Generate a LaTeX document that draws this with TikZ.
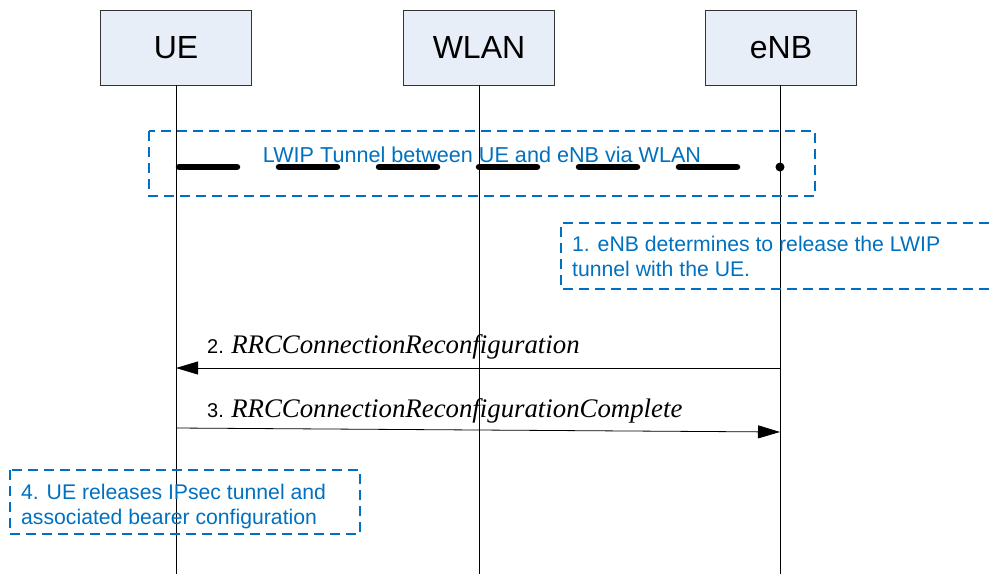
\documentclass[tikz,border=0pt]{standalone}
\usepackage{fontspec}
\setmainfont{Liberation Sans}
\newfontfamily\timesf{Liberation Serif}
\usetikzlibrary{arrows.meta}
\definecolor{hdrfill}{HTML}{E8EEF7}
\definecolor{noteblue}{HTML}{0070C0}
\begin{document}
\begin{tikzpicture}[x=1pt,y=-1pt,
  hdr/.style={draw=black!80,fill=hdrfill,line width=0.8pt,minimum width=151pt,minimum height=75pt,inner sep=0pt,font=\fontsize{32}{36}\selectfont},
  life/.style={draw=black,line width=0.8pt},
  notebox/.style={draw=noteblue,line width=1.6pt,dash pattern=on 10pt off 6pt},
  notetext/.style={text=noteblue,font=\fontsize{21.2}{25}\selectfont,align=left,inner sep=0pt},
  msg/.style={draw=black,line width=0.8pt,-{Triangle[length=22pt,width=13pt]}},
  msglabel/.style={inner sep=0pt,anchor=base west,font=\fontsize{20}{24}\selectfont},
  tunnel/.style={draw=black,line width=6.5pt,line cap=round,dash pattern=on 58pt off 42pt}]
\useasboundingbox (0,0) rectangle (989,574);
% headers
\node[hdr] (ue) at (176,47.5) {UE};
\node[hdr] (wlan) at (479,47.5) {WLAN};
\node[hdr] (enb) at (781,47.5) {eNB};
% lifeline ends
\coordinate (ueb) at (176,574);
\coordinate (wlanb) at (479,574);
\coordinate (enbb) at (780,574);
\draw[life] (176,85) -- (ueb);
\draw[life] (479,85) -- (wlanb);
\draw[life] (780,85) -- (enbb);
% tunnel box
\draw[notebox] (149,131) rectangle (815,196);
\node[text=noteblue,font=\fontsize{21.6}{24}\selectfont,inner sep=0pt,anchor=base] (tunneltxt) at (482,162) {LWIP Tunnel between UE and eNB via WLAN};
\coordinate (tuns) at (179,167);
\coordinate (tune) at (780,167);
\draw[tunnel] (tuns) -- (tune);
\fill (tune) circle (4.5pt);
% note 1
\draw[notebox] (989,223) -- (561,223) -- (561,289) -- (989,289);
\node[notetext,anchor=north west] (n1) at (572,236) {1. eNB determines to release the LWIP\\tunnel with the UE.};
% messages
\coordinate (m2s) at (780,368);
\coordinate (m2e) at (176,368);
\draw[msg] (m2s) -- (m2e);
\node[msglabel] (l2) at (207,353) {2. {\timesf\itshape\fontsize{26.8}{30}\selectfont RRCConnectionReconfiguration}};
\coordinate (m3s) at (176,428);
\coordinate (m3e) at (780,432);
\draw[msg] (m3s) -- (m3e);
\node[msglabel] (l3) at (207,417) {3. {\timesf\itshape\fontsize{26.8}{30}\selectfont RRCConnectionReconfigurationComplete}};
% note 4
\draw[notebox] (10,470) rectangle (360,534);
\node[notetext,anchor=north west] (n4) at (21,484) {4. UE releases IPsec tunnel and\\associated bearer configuration};
\end{tikzpicture}
\end{document}
